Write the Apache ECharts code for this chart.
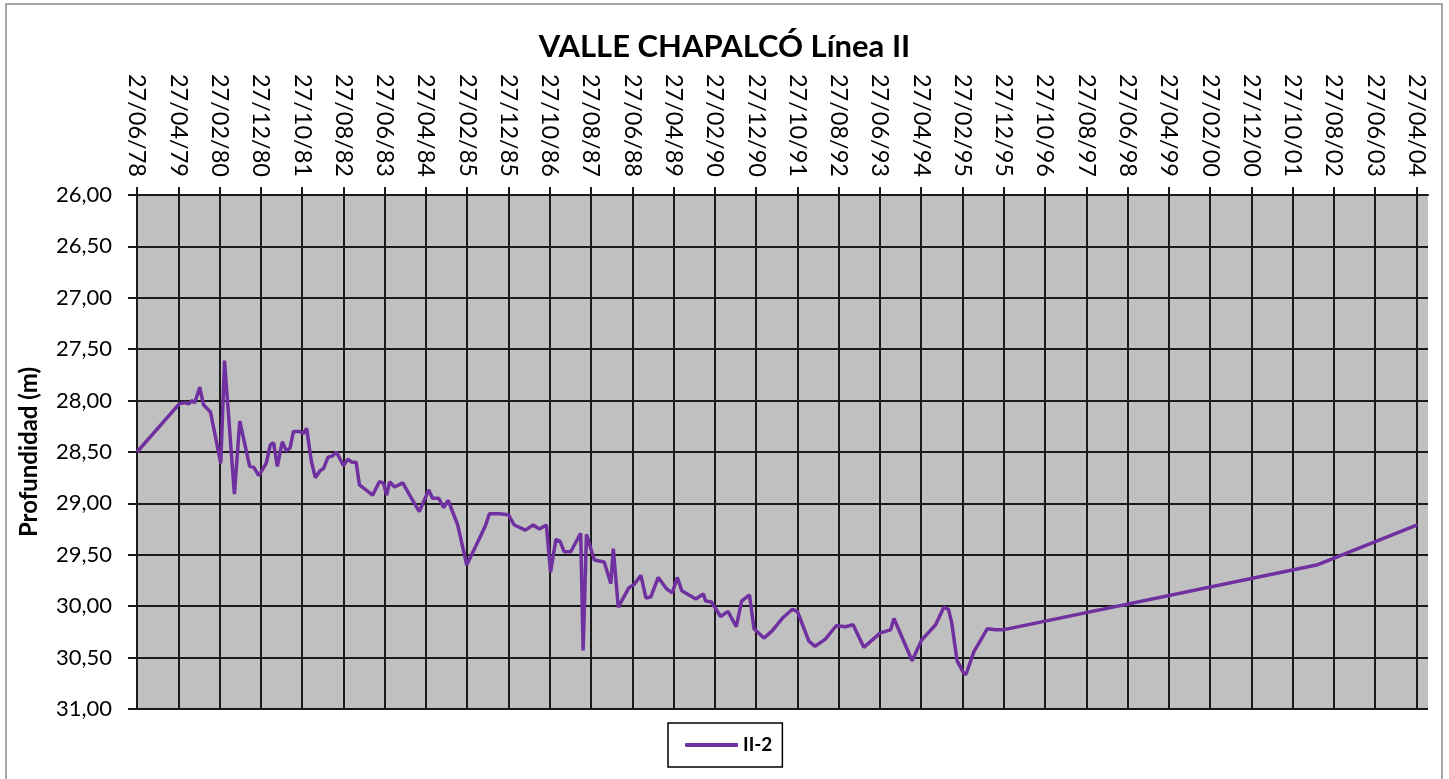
<!DOCTYPE html>
<html lang="es">
<head>
    <meta charset="utf-8"/>
    <script src="https://cdn.jsdelivr.net/npm/echarts@6.0.0/dist/echarts.min.js"></script>
    <title>VALLE CHAPALCÓ Línea II</title>
    <style>
        html, body { margin: 0; padding: 0; background: #fff; }
        #main { width: 1449px; height: 779px; }
    </style>
</head>
<body>
<div id="main"></div>
<script type="text/javascript">

    // meses transcurridos desde el 27/06/78 (eje de fechas cada 10 meses)
    var meses = [
        0, 10.3, 11.5, 12.6, 13.2, 14.0, 15.2, 16.1, 17.8, 20.3,
        21.2, 23.6, 24.9, 27.3, 28.3, 29.5, 31.3, 32.3, 33.1, 34.0,
        35.2, 36.2, 37.1, 37.9, 39.4, 40.3, 41.1, 42.2, 43.2, 44.4,
        45.2, 46.3, 47.3, 48.3, 50.0, 51.1, 52.1, 53.1, 53.9, 57.1,
        58.7, 59.7, 60.5, 61.2, 62.4, 64.4, 66.2, 68.4, 70.7, 71.6,
        73.1, 74.3, 75.4, 77.7, 79.9, 84.4, 85.4, 87.8, 90.0, 91.4,
        94.1, 96.0, 97.5, 99.2, 100.2, 101.5, 102.5, 103.5, 105.1, 107.5,
        108.1, 108.9, 110.8, 113.2, 114.8, 115.4, 116.6, 119.2, 120.4, 122.1,
        123.3, 124.5, 126.3, 128.3, 129.7, 130.9, 132.0, 135.4, 137.2, 137.8,
        139.2, 141.4, 143.2, 145.2, 146.5, 148.4, 149.5, 151.9, 153.9, 156.3,
        158.8, 160.0, 162.8, 164.3, 166.8, 169.4, 171.7, 173.5, 176.1, 180.1,
        182.6, 183.4, 187.8, 190.1, 193.5, 195.5, 196.6, 197.4, 198.7, 200.4,
        200.9, 202.8, 204.0, 206.0, 208.1, 209.8, 285.8, 310.2
    ];

    // profundidad del nivel (m) del pozo II-2
    var profundidad = [
        28.50, 28.03, 28.02, 28.03, 28.00, 28.02, 27.87, 28.04, 28.11, 28.61,
        27.61, 28.91, 28.20, 28.64, 28.65, 28.73, 28.61, 28.43, 28.41, 28.64,
        28.40, 28.49, 28.46, 28.30, 28.30, 28.32, 28.27, 28.58, 28.75, 28.68,
        28.66, 28.55, 28.54, 28.50, 28.63, 28.57, 28.60, 28.60, 28.82, 28.92,
        28.79, 28.80, 28.92, 28.79, 28.84, 28.80, 28.93, 29.08, 28.87, 28.95,
        28.95, 29.04, 28.97, 29.21, 29.60, 29.22, 29.10, 29.10, 29.11, 29.21,
        29.26, 29.21, 29.25, 29.21, 29.67, 29.35, 29.37, 29.47, 29.47, 29.29,
        30.43, 29.30, 29.55, 29.57, 29.78, 29.44, 30.01, 29.82, 29.79, 29.70,
        29.92, 29.91, 29.72, 29.83, 29.87, 29.72, 29.85, 29.93, 29.88, 29.95,
        29.96, 30.10, 30.05, 30.20, 29.95, 29.89, 30.22, 30.31, 30.24, 30.12,
        30.03, 30.05, 30.34, 30.39, 30.32, 30.19, 30.20, 30.18, 30.40, 30.26,
        30.23, 30.12, 30.53, 30.33, 30.18, 30.01, 30.03, 30.16, 30.53, 30.66,
        30.66, 30.44, 30.36, 30.22, 30.23, 30.23, 29.60, 29.21
    ];

    // marcas del eje de fechas: 27/06/78 ... 27/04/04
    var marcasX = [];
    for (var i = 0; i <= 310; i += 10) marcasX.push(i);

    function fecha(m) {
        var total = 1978 * 12 + 5 + Math.round(m);
        var anio = Math.floor(total / 12);
        var mes = total % 12 + 1;
        return '27/' + (mes < 10 ? '0' + mes : mes) + '/' + String(anio).slice(2);
    }

    var datos = [];
    for (var k = 0; k < meses.length; k++) datos.push([meses[k], profundidad[k]]);

    var fuente = 'Lato, "Open Sans", sans-serif';

    var myChart = echarts.init(document.getElementById('main'));

    var option = {
        backgroundColor: '#ffffff',
        animation: false,
        title: {
            text: 'VALLE CHAPALCÓ Línea II',
            left: 'center',
            top: 26,
            textStyle: {fontFamily: fuente, fontSize: 31, fontWeight: 'bold', color: '#000'}
        },
        graphic: [{
            type: 'rect',
            shape: {x: 6, y: 4, width: 1436, height: 800},
            style: {fill: 'none', stroke: '#8c8c8c', lineWidth: 1.5},
            silent: true
        }],
        legend: {
            data: ['II-2'],
            left: 668,
            top: 723,
            icon: 'roundRect',
            padding: [12, 10, 12, 17],
            itemWidth: 53,
            itemHeight: 4,
            itemGap: 6,
            borderColor: '#000',
            borderWidth: 1.5,
            textStyle: {fontFamily: fuente, fontSize: 19, fontWeight: 'bold', color: '#000', lineHeight: 20}
        },
        grid: {
            left: 137,
            right: 21,
            top: 195,
            bottom: 70,
            show: true,
            backgroundColor: '#c0c0c0',
            borderWidth: 0
        },
        xAxis: {
            type: 'value',
            position: 'top',
            min: 0,
            max: 312.8,
            interval: 10,
            axisLine: {show: true, lineStyle: {color: '#1a1a1a', width: 2}},
            axisTick: {show: true, length: 8, customValues: marcasX, lineStyle: {color: '#1a1a1a', width: 2}},
            axisLabel: {
                customValues: marcasX,
                rotate: 90,
                margin: 18,
                fontFamily: fuente,
                fontSize: 23.5,
                color: '#000',
                formatter: function (v) { return fecha(v); }
            },
            splitLine: {show: true, lineStyle: {color: '#1a1a1a', width: 2}}
        },
        yAxis: {
            type: 'value',
            inverse: true,
            min: 26,
            max: 31,
            interval: 0.5,
            name: 'Profundidad (m)',
            nameLocation: 'middle',
            nameGap: 96,
            nameTextStyle: {fontFamily: fuente, fontSize: 24, fontWeight: 'bold', color: '#000'},
            axisLine: {show: true, lineStyle: {color: '#1a1a1a', width: 2}},
            axisTick: {show: true, length: 9, lineStyle: {color: '#1a1a1a', width: 2}},
            axisLabel: {
                margin: 25,
                fontFamily: fuente,
                fontSize: 22,
                color: '#000',
                formatter: function (v) { return v.toFixed(2).replace('.', ','); }
            },
            splitLine: {show: true, lineStyle: {color: '#1a1a1a', width: 2}}
        },
        series: [{
            name: 'II-2',
            type: 'line',
            symbol: 'none',
            data: datos,
            lineStyle: {color: '#7030a0', width: 3.5},
            itemStyle: {color: '#7030a0'}
        }]
    };
    myChart.setOption(option);
</script>
</body>
</html>
